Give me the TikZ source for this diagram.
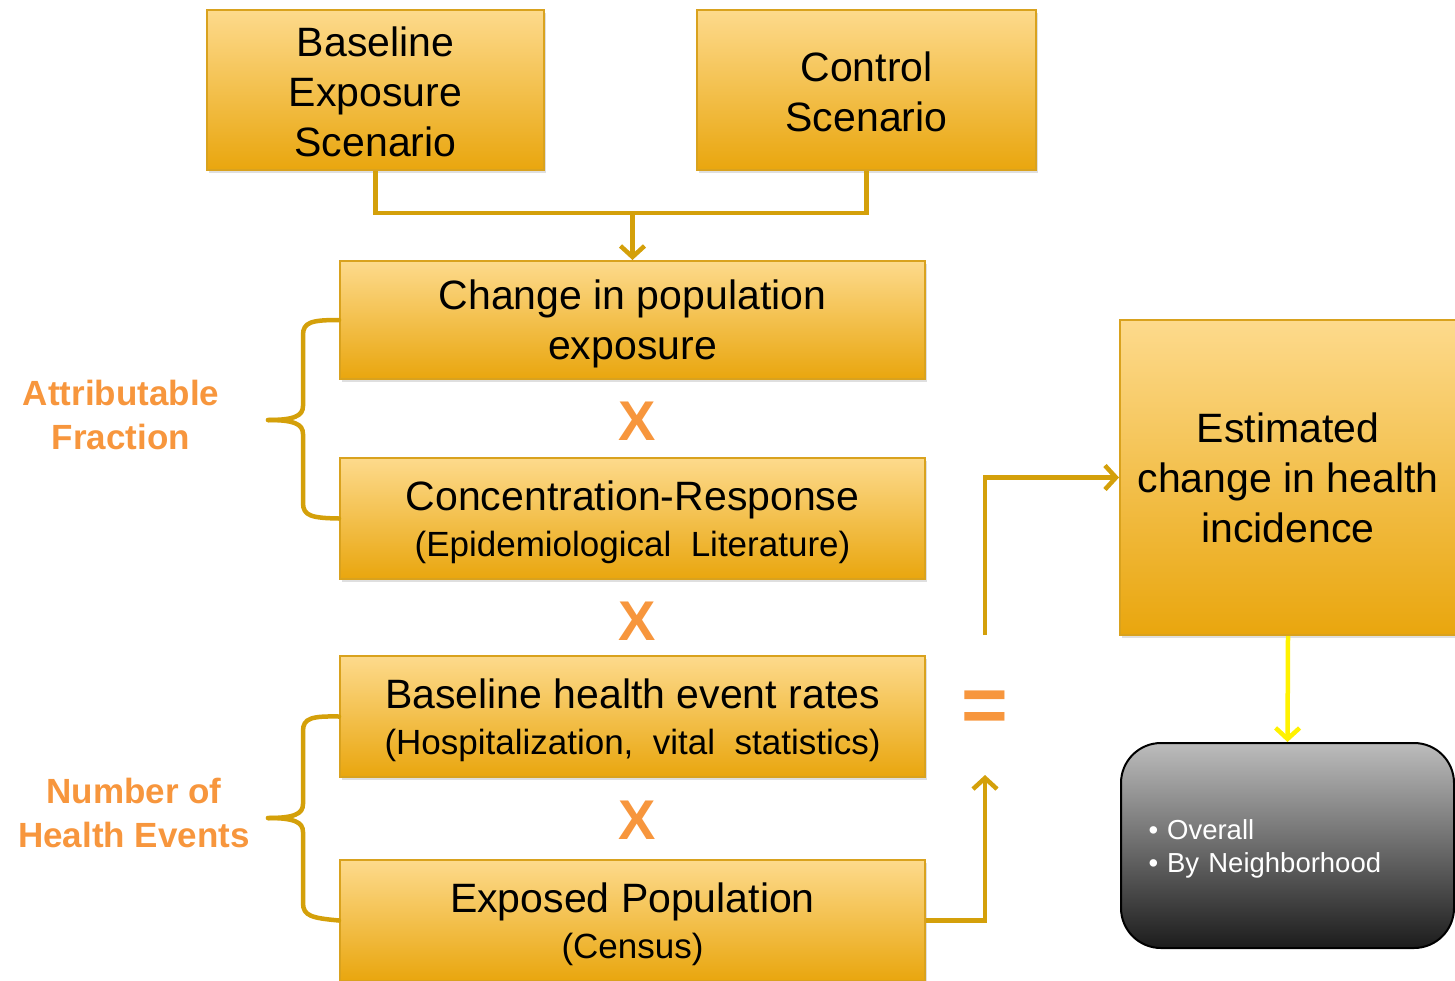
\documentclass[tikz,border=0pt]{standalone}
\usepackage{fontspec}
\setmainfont{Liberation Sans}
\usetikzlibrary{arrows.meta,shadows}
\definecolor{boxtop}{HTML}{FDDA8C}
\definecolor{boxbot}{HTML}{E9A60E}
\definecolor{boxline}{HTML}{D9A21E}
\definecolor{linkgold}{HTML}{D4A00A}
\definecolor{labelorange}{HTML}{F7963D}
\definecolor{greytop}{HTML}{BCBCBC}
\definecolor{greybot}{HTML}{1C1C1C}
\definecolor{linkyellow}{HTML}{FFF200}
\def\mainsize{\fontsize{41}{50}\selectfont}
\def\subsize{\fontsize{35}{40}\selectfont}
\def\lowstrut{\rule{0pt}{38pt}}
\def\stepnode{\node[draw=boxline,line width=2pt,top color=boxtop,bottom color=boxbot,drop shadow={opacity=0.25,shadow xshift=2pt,shadow yshift=-3pt},align=center,font=\mainsize]}
\def\signnode{\node[text=labelorange,font=\bfseries\fontsize{56}{56}\selectfont]}
\def\labelnode{\node[text=labelorange,align=center,font=\bfseries\fontsize{35}{44}\selectfont]}
\def\drawlink{\draw[color=linkgold,line width=4.5pt]}
\def\linktip{-{Straight Barb[length=11pt,width=24pt]}}

\begin{document}
\begin{tikzpicture}[x=1pt,y=-1pt,inner sep=0pt]
\useasboundingbox (0,0) rectangle (1455,980);
\stepnode[minimum width=337pt,minimum height=160pt] (base) at (375.5,90) {\rule{0pt}{34pt}Baseline\\Exposure\\Scenario};
\stepnode[minimum width=339pt,minimum height=160pt] (ctrl) at (866.5,90) {\rule{0pt}{34pt}Control\\Scenario};
\stepnode[minimum width=585pt,minimum height=118pt] (chg) at (632.5,320) {\lowstrut Change in population\\exposure};
\stepnode[minimum width=585pt,minimum height=121pt] (cr) at (632.5,518.5) {\lowstrut Concentration-Response\\[-4pt]{\subsize(Epidemiological\ \ Literature)}};
\stepnode[minimum width=585pt,minimum height=121pt] (bh) at (632.5,716.5) {\lowstrut Baseline health event rates\\[-4pt]{\subsize(Hospitalization,\ \ vital\ \ statistics)}};
\stepnode[minimum width=585pt,minimum height=121pt] (ep) at (632.5,920.5) {\lowstrut Exposed Population\\[-4pt]{\subsize(Census)}};
\stepnode[minimum width=336pt,minimum height=315pt] (est) at (1288,477.5) {Estimated\\change in health\\incidence};
\node[draw=black,line width=2pt,rounded corners=40pt,top color=greytop,bottom color=greybot,minimum width=333pt,minimum height=205pt,text width=286pt,inner xsep=23.5pt,align=left,text=white,font=\fontsize{27.5}{33}\selectfont] (out) at (1287.5,845.5) {\rule{0pt}{26pt}\hspace{4pt}\textbullet\hspace{9pt}Overall\\\hspace*{4pt}\textbullet\hspace{9pt}By Neighborhood};

\labelnode (af) at (121,415) {Attributable\\Fraction};
\labelnode (nh) at (134,813) {Number of\\Health Events};
\signnode (xa) at (637,421) {X};
\signnode (xb) at (637,621) {X};
\signnode (xc) at (637,820) {X};
\signnode[font=\bfseries\fontsize{80}{80}\selectfont] (eq) at (985,712) {=};

\coordinate (join) at (632.5,213);
\coordinate (eqlow) at (985,775);
\coordinate (eqhigh) at (985,635);
\coordinate (aftip) at (268,420);
\coordinate (nhtip) at (268,818);
\drawlink (base.south) |- (join) -| (ctrl.south);
\drawlink[\linktip] (join) -- (chg.north);
\drawlink[\linktip] (ep.east) -| (eqlow);
\drawlink[\linktip] (eqhigh) |- (est.west);
\draw[color=linkyellow,line width=4.5pt,\linktip] (est.south) -- (out.north);

\drawlink[line cap=round] (chg.west) .. controls (312,320) and (303,322) .. (303,335) -- (303,406) .. controls (303,416) and (294,420) .. (aftip);
\drawlink[line cap=round] (cr.west) .. controls (312,518) and (303,516) .. (303,503) -- (303,434) .. controls (303,424) and (294,420) .. (aftip);
\drawlink[line cap=round] (bh.west) .. controls (312,716) and (303,718) .. (303,731) -- (303,804) .. controls (303,814) and (294,818) .. (nhtip);
\drawlink[line cap=round] (ep.west) .. controls (312,918) and (303,916) .. (303,903) -- (303,832) .. controls (303,822) and (294,818) .. (nhtip);
\end{tikzpicture}
\end{document}
